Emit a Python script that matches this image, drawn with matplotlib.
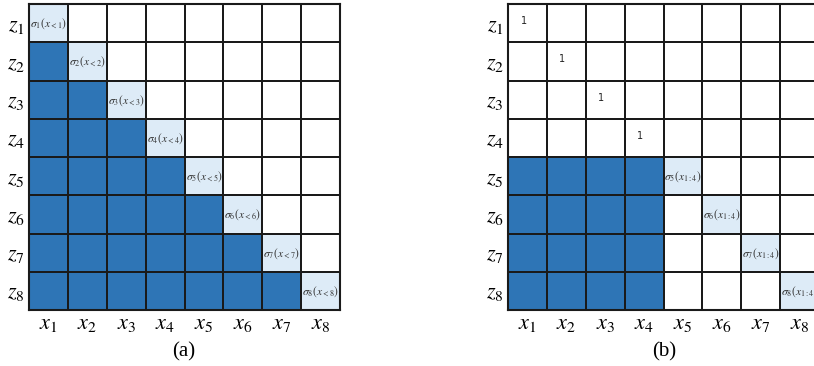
import matplotlib
matplotlib.use("Agg")
import matplotlib.pyplot as plt
from matplotlib.colors import ListedColormap
import numpy as np

plt.rcParams['mathtext.fontset'] = 'stix'

row_labels = [r'$z_{%d}$' % i for i in range(1, 9)]
col_labels = [r'$x_{%d}$' % i for i in range(1, 9)]

# cell states: 0 = white, 1 = light blue, 2 = dark blue
grid_a = [
    "10000000",
    "21000000",
    "22100000",
    "22210000",
    "22221000",
    "22222100",
    "22222210",
    "22222221",
]
grid_b = [
    "00000000",
    "00000000",
    "00000000",
    "00000000",
    "22221000",
    "22220100",
    "22220010",
    "22220001",
]
text_a = [r'$\sigma_{%d}(x_{<%d})$' % (i, i) for i in range(1, 9)]
text_b = ['1', '1', '1', '1'] + [r'$\sigma_{%d}(x_{1:4})$' % i for i in range(5, 9)]
captions = ['(a)', '(b)']

cmap = ListedColormap(['#FFFFFF', '#DDEBF7', '#2E75B6'])

fig = plt.figure(figsize=(8.14, 3.66), dpi=100)
W, H = 814, 366


def draw(left, grid, texts, caption, cap_x):
    ax = fig.add_axes([left / W, (H - 310) / H, 311 / W, 306 / H])
    vals = np.array([[int(c) for c in row] for row in grid])
    ax.pcolormesh(vals, cmap=cmap, vmin=0, vmax=2, edgecolors='#1a1a1a', linewidth=1.2)
    ax.set_xlim(0, 8)
    ax.set_ylim(8, 0)
    for s in ax.spines.values():
        s.set_linewidth(1.5)
        s.set_color('#1a1a1a')
    ax.set_xticks(np.arange(8) + 0.5)
    ax.set_xticklabels(col_labels, fontsize=16)
    ax.set_yticks(np.arange(8) + 0.5)
    ax.set_yticklabels(row_labels, fontsize=16)
    ax.tick_params(length=0, pad=3)
    for i, t in enumerate(texts):
        if t == '1':
            ax.text(i + 0.4, i + 0.45, t, fontsize=7, ha='center', va='center', color='#222')
        else:
            ax.text(i + 0.5, i + 0.52, t, fontsize=8.3, ha='center', va='center',
                    color='#333', zorder=5)
    fig.text(cap_x / W, 1 - 352 / H, caption, fontsize=15, ha='center', va='center',
             family='Liberation Serif')
    return ax


draw(29, grid_a, text_a, captions[0], 184)
draw(508, grid_b, text_b, captions[1], 664)

fig.savefig('out.png', dpi=100)
